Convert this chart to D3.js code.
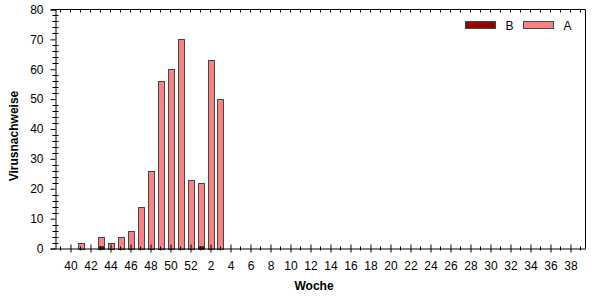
<html>
<head>
<script src="https://d3js.org/d3.v7.min.js"></script>
<style>
  body { margin: 0; background: #fff; }
  text { font-family: Arial, "Liberation Sans", sans-serif; }
</style>
</head>
<body>
<div id="chart"></div>
<script>
// week labels along the x axis (season from week 40 to week 38)
const weeks = [40, 41, 42, 43, 44, 45, 46, 47, 48, 49, 50, 51, 52,
  1, 2, 3, 4, 5, 6, 7, 8, 9, 10, 11, 12, 13, 14, 15, 16, 17, 18, 19, 20,
  21, 22, 23, 24, 25, 26, 27, 28, 29, 30, 31, 32, 33, 34, 35, 36, 37, 38];

// weeks that have detections, and the counts per type
const dataWeeks = [41, 43, 44, 45, 46, 47, 48, 49, 50, 51, 52, 1, 2, 3];
const valuesB   = [0, 1, 0, 0, 0, 0, 0, 0, 0, 0, 0, 1, 0, 0];
const valuesA   = [2, 3, 2, 4, 6, 14, 26, 56, 60, 70, 23, 21, 63, 50];

const yTicks = [0, 10, 20, 30, 40, 50, 60, 70, 80];
const seriesNames = ["B", "A"];
const colors = { B: "#990000", A: "#ff8080" };
const edge = "#2f4f4f";

const W = 602, H = 300;
const plotL = 55.5, plotR = 585.5, plotT = 9.5, plotB = 248.5;

const svg = d3.select("#chart").append("svg")
  .attr("width", W).attr("height", H);

const x = d3.scaleLinear().domain([-1.5, weeks.length + 0.5]).range([plotL, plotR]);
const y = d3.scaleLinear().domain([0, 80]).range([plotB, plotT]);

// rows for stacking
const rows = dataWeeks.map((w, i) => ({ week: w, idx: weeks.indexOf(w), B: valuesB[i], A: valuesA[i] }));
const stacked = d3.stack().keys(seriesNames)(rows);

// bars
stacked.forEach(s => {
  svg.append("g").selectAll("rect")
    .data(s.filter(d => d[1] > d[0]))
    .enter().append("rect")
    .attr("x", d => Math.round(x(d.data.idx) - 3) + 0.5)
    .attr("width", 6)
    .attr("y", d => Math.round(y(d[1])) + 0.5)
    .attr("height", d => Math.round(y(d[0])) - Math.round(y(d[1])))
    .attr("fill", colors[s.key])
    .attr("stroke", edge)
    .attr("stroke-width", 1);
});

// frame lines: top and right
svg.append("line").attr("x1", plotL - 3).attr("x2", plotR).attr("y1", plotT).attr("y2", plotT)
  .attr("stroke", "#000");
svg.append("line").attr("x1", plotR).attr("x2", plotR).attr("y1", plotT).attr("y2", plotB)
  .attr("stroke", "#000");

// top ticks
svg.append("g").selectAll("line")
  .data(d3.range(-1, weeks.length + 1))
  .enter().append("line")
  .attr("x1", d => x(d)).attr("x2", d => x(d))
  .attr("y1", plotT).attr("y2", plotT + 3)
  .attr("stroke", "#000");

// y axis
const yAxis = svg.append("g")
  .attr("transform", "translate(" + plotL + ",0)")
  .call(d3.axisLeft(y).tickValues(yTicks).tickSize(5).tickPadding(7));
yAxis.select(".domain").attr("stroke", "#000");
yAxis.selectAll("text").style("font-size", "12px").attr("fill", "#000");

// y minor ticks crossing the axis
svg.append("g").selectAll("line")
  .data(d3.range(2, 80, 2).filter(v => v % 10 !== 0))
  .enter().append("line")
  .attr("x1", plotL - 3).attr("x2", plotL + 3)
  .attr("y1", d => Math.round(y(d)) + 0.5).attr("y2", d => Math.round(y(d)) + 0.5)
  .attr("stroke", "#000");

// x axis: labelled ticks every second week
const majorIdx = d3.range(0, weeks.length, 2);
const xAxis = svg.append("g")
  .attr("transform", "translate(0," + plotB + ")")
  .call(d3.axisBottom(x).tickValues(majorIdx).tickFormat(i => weeks[i])
    .tickSize(4).tickPadding(9).tickSizeOuter(0));
xAxis.select(".domain").attr("stroke", "#000");
xAxis.selectAll(".tick line").attr("y1", -4);
xAxis.selectAll("text").style("font-size", "12px").attr("fill", "#000");

// x minor ticks
svg.append("g").selectAll("line")
  .data(d3.range(-1, weeks.length + 1, 2))
  .enter().append("line")
  .attr("x1", d => x(d)).attr("x2", d => x(d))
  .attr("y1", plotB - 2).attr("y2", plotB + 2)
  .attr("stroke", "#000");

// axis titles
svg.append("text")
  .attr("x", 314).attr("y", 290)
  .attr("text-anchor", "middle")
  .style("font-size", "12px").style("font-weight", "bold")
  .text("Woche");
svg.append("text")
  .attr("transform", "translate(18,136) rotate(-90)")
  .attr("text-anchor", "middle")
  .style("font-size", "12px").style("font-weight", "bold")
  .text("Virusnachweise");

// legend
const legend = svg.append("g");
const legX = [465.5, 523.5];
seriesNames.forEach((k, i) => {
  legend.append("rect")
    .attr("x", legX[i]).attr("y", 21.5)
    .attr("width", 30).attr("height", 7)
    .attr("fill", colors[k]).attr("stroke", edge);
  legend.append("text")
    .attr("x", legX[i] + 40).attr("y", 30)
    .style("font-size", "12px")
    .text(k);
});
</script>
</body>
</html>
